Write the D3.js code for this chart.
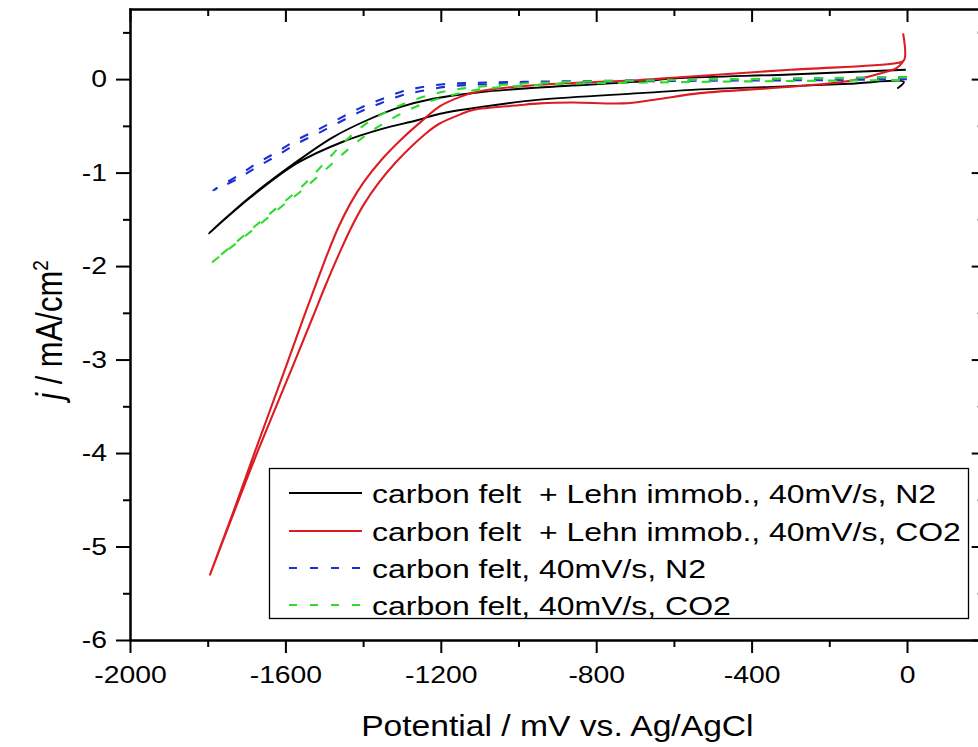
<!DOCTYPE html>
<html>
<head>
<meta charset="utf-8">
<script src="https://cdn.jsdelivr.net/npm/d3@7/dist/d3.min.js"></script>
<style>
  html, body { margin: 0; padding: 0; background: #fff; }
  svg { display: block; }
  text { font-family: "Liberation Sans", Arial, sans-serif; fill: #000; }
</style>
</head>
<body>
<svg id="chart" width="978" height="747"></svg>
<script>
// Cyclic voltammograms, potential (mV vs. Ag/AgCl) and current density (mA/cm2).
// Each curve is a closed scan: cathodic sweep then the return sweep.

// carbon felt + Lehn immob., 40mV/s, N2
const lehnN2 = [
  [-25, -0.10], [-8, -0.03], [-150, -0.05], [-330, -0.08], [-533, -0.11], [-687, -0.15],
  [-945, -0.22], [-1100, -0.30], [-1202, -0.37], [-1261, -0.44], [-1349, -0.53],
  [-1452, -0.67], [-1570, -0.90], [-1691, -1.27], [-1797, -1.65],
  [-1691, -1.26], [-1570, -0.88], [-1477, -0.62], [-1390, -0.44], [-1305, -0.30],
  [-1220, -0.21], [-1100, -0.14], [-945, -0.09], [-700, -0.03], [-584, 0.01],
  [-300, 0.05], [-3, 0.10]
];

// carbon felt + Lehn immob., 40mV/s, CO2
const lehnCO2 = [
  [-10, 0.49], [-8, 0.20], [-30, 0.17], [-300, 0.10], [-584, 0.02], [-687, -0.01],
  [-945, -0.06], [-1100, -0.13], [-1150, -0.19], [-1202, -0.29], [-1252, -0.46],
  [-1298, -0.63], [-1352, -0.86], [-1398, -1.10], [-1434, -1.34], [-1463, -1.58],
  [-1490, -1.85], [-1520, -2.18], [-1553, -2.55], [-1599, -3.08], [-1677, -3.97],
  [-1735, -4.64], [-1794, -5.30],
  [-1733, -4.64], [-1670, -3.97], [-1582, -3.08], [-1530, -2.55], [-1496, -2.20],
  [-1463, -1.88], [-1432, -1.60], [-1398, -1.34], [-1362, -1.12], [-1318, -0.90],
  [-1273, -0.71], [-1232, -0.56], [-1205, -0.48],
  [-1151, -0.38], [-1117, -0.33], [-1000, -0.28], [-945, -0.26], [-860, -0.25],
  [-731, -0.26], [-650, -0.22], [-533, -0.15], [-327, -0.09], [-150, -0.02],
  [-69, 0.06], [-26, 0.12], [-10, 0.19]
];

// carbon felt, 40mV/s, N2
const feltN2 = [
  [0, 0.02], [-200, 0.01], [-600, -0.01], [-988, -0.03], [-1117, -0.04], [-1184, -0.05],
  [-1254, -0.09], [-1305, -0.14], [-1356, -0.22], [-1408, -0.31], [-1465, -0.43],
  [-1516, -0.54], [-1570, -0.65], [-1622, -0.78], [-1673, -0.90], [-1725, -1.04],
  [-1786, -1.19],
  [-1725, -1.07], [-1673, -0.94], [-1622, -0.82], [-1570, -0.69], [-1516, -0.58],
  [-1465, -0.47], [-1408, -0.35], [-1356, -0.26], [-1305, -0.18], [-1254, -0.13],
  [-1184, -0.08], [-1117, -0.06], [-988, -0.04], [-600, -0.02], [-200, -0.01], [0, 0.00]
];

// carbon felt, 40mV/s, CO2
const feltCO2 = [
  [0, 0.02], [-600, -0.01], [-945, -0.04], [-1100, -0.08], [-1200, -0.14], [-1280, -0.24],
  [-1340, -0.35], [-1400, -0.50], [-1450, -0.68], [-1500, -0.90], [-1560, -1.16],
  [-1620, -1.37], [-1680, -1.58], [-1740, -1.79], [-1789, -1.96],
  [-1740, -1.80], [-1680, -1.60], [-1600, -1.33], [-1560, -1.20], [-1500, -0.98],
  [-1452, -0.80], [-1390, -0.59], [-1320, -0.41], [-1250, -0.27], [-1180, -0.18],
  [-1100, -0.11], [-945, -0.06], [-533, -0.03], [0, -0.01]
];

const seriesNames = [
  "carbon felt  + Lehn immob., 40mV/s, N2",
  "carbon felt  + Lehn immob., 40mV/s, CO2",
  "carbon felt, 40mV/s, N2",
  "carbon felt, 40mV/s, CO2"
];
const seriesColors = ["#000000", "#dc1c22", "#1e2ed2", "#2edc2e"];
const seriesDash = [null, null, "9,12", "9,12"];
const seriesData = [lehnN2, lehnCO2, feltN2, feltCO2];

const xMajorTicks = [-2000, -1600, -1200, -800, -400, 0];
const xMinorTicks = [-1800, -1400, -1000, -600, -200, 200];
const yMajorTicks = [-6, -5, -4, -3, -2, -1, 0];
const yMinorTicks = [-5.5, -4.5, -3.5, -2.5, -1.5, -0.5, 0.5];

const xTitle = "Potential / mV vs. Ag/AgCl";

// ---- layout ----
const svg = d3.select("#chart");
const x = d3.scaleLinear().domain([-2000, 200]).range([130, 984.7]);
const y = d3.scaleLinear().domain([-6, 0.75]).range([640, 9]);
const [x0, x1] = x.range();
const [y0, y1] = y.range();

// text in this figure is drawn slightly wide
const SX = 1.18;
const plainNumber = d => String(d);

function styleAxis(g) {
  g.select(".domain").attr("stroke-width", 2).attr("stroke-linecap", "square");
  g.selectAll(".tick line").attr("stroke-width", 2);
}

// curves (drawn first so the frame sits on top)
const line = d3.line()
  .x(d => x(d[0]))
  .y(d => y(d[1]))
  .curve(d3.curveCatmullRom.alpha(0.5));

const curves = svg.append("g");
seriesData.forEach((data, i) => {
  curves.append("path")
    .attr("d", line(data))
    .attr("fill", "none")
    .attr("stroke", seriesColors[i])
    .attr("stroke-width", i === 0 ? 1.9 : 2.1)
    .attr("stroke-dasharray", seriesDash[i])
    .attr("stroke-linejoin", "round");
});

// bottom axis
const bottomMinor = svg.append("g").attr("transform", `translate(0,${y0})`)
  .call(d3.axisBottom(x).tickValues(xMinorTicks).tickSize(7).tickSizeOuter(0).tickFormat(""));
styleAxis(bottomMinor);
const bottom = svg.append("g").attr("transform", `translate(0,${y0})`)
  .call(d3.axisBottom(x).tickValues(xMajorTicks).tickSize(13).tickSizeOuter(0).tickPadding(13)
    .tickFormat(plainNumber));
styleAxis(bottom);
bottom.selectAll(".tick text")
  .attr("font-size", 24)
  .attr("font-family", "Liberation Sans, Arial, sans-serif")
  .attr("transform", `scale(${SX},1)`);

// top axis (ticks pointing inward)
const topMinor = svg.append("g").attr("transform", `translate(0,${y1})`)
  .call(d3.axisBottom(x).tickValues(xMinorTicks).tickSize(7).tickSizeOuter(0).tickFormat(""));
styleAxis(topMinor);
const topAxis = svg.append("g").attr("transform", `translate(0,${y1})`)
  .call(d3.axisBottom(x).tickValues(xMajorTicks).tickSize(13).tickSizeOuter(0).tickFormat(""));
styleAxis(topAxis);

// left axis
const leftMinor = svg.append("g").attr("transform", `translate(${x0},0)`)
  .call(d3.axisLeft(y).tickValues(yMinorTicks).tickSize(7).tickSizeOuter(0).tickFormat(""));
styleAxis(leftMinor);
const left = svg.append("g").attr("transform", `translate(${x0},0)`)
  .call(d3.axisLeft(y).tickValues(yMajorTicks).tickSize(14).tickSizeOuter(0).tickPadding(9)
    .tickFormat(plainNumber));
styleAxis(left);
left.selectAll(".tick text")
  .attr("font-size", 24)
  .attr("font-family", "Liberation Sans, Arial, sans-serif")
  .attr("x", -23 / SX)
  .attr("transform", `scale(${SX},1)`);

// right axis (ticks pointing inward)
const rightMinor = svg.append("g").attr("transform", `translate(${x1},0)`)
  .call(d3.axisLeft(y).tickValues(yMinorTicks).tickSize(7).tickSizeOuter(0).tickFormat(""));
styleAxis(rightMinor);
const rightAxis = svg.append("g").attr("transform", `translate(${x1},0)`)
  .call(d3.axisLeft(y).tickValues(yMajorTicks).tickSize(13).tickSizeOuter(0).tickFormat(""));
styleAxis(rightAxis);

// axis titles
svg.append("text")
  .attr("transform", `translate(${(x0 + x1) / 2},736) scale(1.16,1)`)
  .attr("text-anchor", "middle")
  .attr("font-size", 29)
  .text(xTitle);

const yTitle = svg.append("text")
  .attr("transform", `translate(62,330) rotate(-90) scale(1,1.18)`)
  .attr("text-anchor", "middle")
  .attr("font-size", 31);
yTitle.append("tspan").attr("font-style", "italic").text("j");
yTitle.append("tspan").text(" / mA/cm");
yTitle.append("tspan").attr("font-size", 19).attr("dy", -12).text("2");

// legend
const legend = svg.append("g");
legend.append("rect")
  .attr("x", 269.5).attr("y", 468.5).attr("width", 699).attr("height", 150)
  .attr("fill", "#fff").attr("stroke", "#000").attr("stroke-width", 1.3);
const rowY = [493, 531, 568, 605];
seriesNames.forEach((name, i) => {
  legend.append("line")
    .attr("x1", 289).attr("x2", 362)
    .attr("y1", rowY[i]).attr("y2", rowY[i])
    .attr("stroke", seriesColors[i])
    .attr("stroke-width", 2.1)
    .attr("stroke-dasharray", seriesDash[i] ? "8,13" : null);
  legend.append("text")
    .attr("transform", `translate(372,${rowY[i] + 10}) scale(1.23,1)`)
    .attr("font-size", 26)
    .style("white-space", "pre")
    .text(name);
});
</script>
</body>
</html>
